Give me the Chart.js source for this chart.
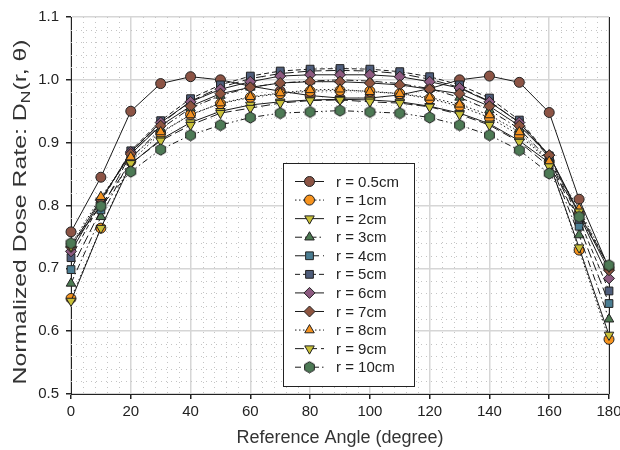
<!DOCTYPE html>
<html>
<head>
<meta charset="utf-8">
<script src="https://cdn.jsdelivr.net/npm/chart.js@4.4.1/dist/chart.umd.min.js"></script>
<style>
  html,body{margin:0;padding:0;background:#fff;}
  #wrap{width:620px;height:450px;}
</style>
</head>
<body>
<div id="wrap"><canvas id="c" width="620" height="450"></canvas></div>
<script>
// reference angles (degree)
const angles=[0,10,20,30,40,50,60,70,80,90,100,110,120,130,140,150,160,170,180];
const names=['r = 0.5cm','r = 1cm','r = 2cm','r = 3cm','r = 4cm','r = 5cm','r = 6cm','r = 7cm','r = 8cm','r = 9cm','r = 10cm'];
const xTicks=[0,20,40,60,80,100,120,140,160,180];
const yTicks=[0.5,0.6,0.7,0.8,0.9,1.0,1.1];

const r05=[0.758,0.845,0.950,0.994,1.005,1.000,0.990,0.982,0.975,0.971,0.971,0.976,0.986,1.000,1.006,0.996,0.948,0.810,0.700];
const r1 =[0.652,0.764,0.870,0.915,0.945,0.962,0.972,0.978,0.982,0.983,0.982,0.978,0.970,0.958,0.940,0.912,0.870,0.729,0.587];
const r2 =[0.648,0.764,0.866,0.905,0.932,0.950,0.960,0.965,0.968,0.969,0.968,0.965,0.958,0.947,0.930,0.903,0.868,0.733,0.594];
const r3 =[0.676,0.782,0.875,0.922,0.955,0.975,0.988,0.995,0.998,1.000,0.998,0.994,0.986,0.972,0.952,0.922,0.872,0.753,0.619];
const r4 =[0.698,0.793,0.882,0.930,0.966,0.988,1.002,1.010,1.014,1.015,1.014,1.010,1.001,0.988,0.966,0.932,0.876,0.767,0.644];
const r5 =[0.717,0.805,0.887,0.935,0.970,0.992,1.006,1.014,1.017,1.018,1.017,1.013,1.005,0.992,0.971,0.936,0.879,0.778,0.664];
const r6 =[0.727,0.808,0.885,0.932,0.965,0.985,0.997,1.006,1.008,1.008,1.008,1.005,0.997,0.987,0.965,0.932,0.880,0.785,0.684];
const r7 =[0.734,0.810,0.882,0.927,0.958,0.978,0.988,0.995,0.997,0.997,0.995,0.992,0.985,0.978,0.958,0.927,0.880,0.788,0.697];
const r8 =[0.738,0.814,0.877,0.917,0.944,0.963,0.973,0.979,0.984,0.985,0.981,0.978,0.972,0.961,0.944,0.917,0.870,0.795,0.702];
const r9 =[0.735,0.800,0.867,0.903,0.928,0.947,0.955,0.963,0.967,0.968,0.965,0.963,0.957,0.945,0.928,0.901,0.862,0.790,0.702];
const r10=[0.740,0.799,0.854,0.889,0.912,0.928,0.940,0.947,0.949,0.951,0.949,0.947,0.940,0.928,0.912,0.888,0.851,0.782,0.705];
const series=[r05,r1,r2,r3,r4,r5,r6,r7,r8,r9,r10];

// hexagon marker for r = 10cm
function hexMarker(fill){
  const cv=document.createElement('canvas'); cv.width=13; cv.height=13;
  const g=cv.getContext('2d'); g.beginPath();
  for(let k=0;k<6;k++){const a=Math.PI/2+k*Math.PI/3; const px=6.5+5.6*Math.cos(a), py=6.5+5.6*Math.sin(a); k?g.lineTo(px,py):g.moveTo(px,py);}
  g.closePath(); g.fillStyle=fill; g.fill(); g.strokeStyle='#222'; g.lineWidth=1; g.stroke();
  return cv;
}
const looks=[
  {fill:'#8c5445',style:'circle',rot:0,r:5,dash:[]},
  {fill:'#f7931e',style:'circle',rot:0,r:5,dash:[1.5,2.5]},
  {fill:'#c9c139',style:'triangle',rot:180,r:5.5,dash:[]},
  {fill:'#4d7a52',style:'triangle',rot:0,r:5.5,dash:[7,3,1.5,3]},
  {fill:'#4a7d92',style:'rect',rot:0,r:5.5,dash:[10,4]},
  {fill:'#4e5d7b',style:'rect',rot:0,r:5.5,dash:[5,3]},
  {fill:'#8c5a80',style:'rectRot',rot:0,r:5.5,dash:[]},
  {fill:'#8e5540',style:'rectRot',rot:0,r:5.5,dash:[]},
  {fill:'#f39220',style:'triangle',rot:0,r:5.5,dash:[1.5,2.5]},
  {fill:'#c9c139',style:'triangle',rot:180,r:5.5,dash:[9,4]},
  {fill:'#4d7a55',style:hexMarker('#4d7a55'),rot:0,r:5.5,dash:[6,3,1.5,3,1.5,3]}
];

const datasets=series.map((s,i)=>({
  label:names[i],
  data:s.map((v,j)=>({x:angles[j],y:v})),
  borderColor:'#1a1a1a',borderWidth:1,borderDash:looks[i].dash,
  pointStyle:looks[i].style,pointRotation:looks[i].rot,pointRadius:looks[i].r,
  pointBackgroundColor:looks[i].fill,pointBorderColor:'#222',pointBorderWidth:1,
  tension:0,fill:false,clip:false,order:series.length-i
}));

const decor={
  id:'decor',
  beforeDatasetsDraw(chart){
    const {ctx,chartArea:a,scales:{x,y}}=chart;
    ctx.save(); ctx.strokeStyle='#c4c4c4'; ctx.lineWidth=1; ctx.setLineDash([1,4]);
    for(let v=4;v<180;v+=4){ if(v%20===0) continue; const px=Math.round(x.getPixelForValue(v))+0.5;
      ctx.beginPath(); ctx.moveTo(px,a.top); ctx.lineTo(px,a.bottom); ctx.stroke(); }
    for(let k=26;k<55;k++){ if(k%5===0) continue; const py=Math.round(y.getPixelForValue(k/50))+0.5;
      ctx.beginPath(); ctx.moveTo(a.left,py); ctx.lineTo(a.right,py); ctx.stroke(); }
    ctx.setLineDash([]); ctx.strokeStyle='#222'; ctx.lineWidth=1;
    ctx.beginPath(); ctx.moveTo(a.right+0.5,a.top); ctx.lineTo(a.right+0.5,a.bottom); ctx.stroke();
    ctx.restore();
  },
  afterDraw(chart){
    const {ctx,chartArea:a}=chart;
    ctx.save();
    // legend
    const bx=283.5,by=163.5,bw=131,bh=223;
    ctx.fillStyle='#fff'; ctx.fillRect(bx,by,bw,bh);
    ctx.strokeStyle='#222'; ctx.lineWidth=1; ctx.strokeRect(bx,by,bw,bh);
    ctx.font='15px "Liberation Sans", Arial, sans-serif'; ctx.textBaseline='middle'; ctx.textAlign='left';
    chart.data.datasets.forEach((d,i)=>{
      const cy=181.5+i*18.57;
      ctx.strokeStyle='#1a1a1a'; ctx.lineWidth=1; ctx.setLineDash(looks[i].dash);
      ctx.beginPath(); ctx.moveTo(295,cy); ctx.lineTo(324,cy); ctx.stroke(); ctx.setLineDash([]);
      ctx.fillStyle=looks[i].fill; ctx.strokeStyle='#222';
      Chart.helpers.drawPoint(ctx,{pointStyle:looks[i].style,rotation:looks[i].rot,radius:looks[i].r,borderWidth:1},309.5,cy);
      ctx.fillStyle='#222'; ctx.fillText(d.label,336,cy+1);
    });
    // axis titles
    ctx.fillStyle='#333'; ctx.font='18px "Liberation Sans", Arial, sans-serif';
    ctx.textAlign='center'; ctx.textBaseline='middle';
    ctx.fillText('Reference Angle (degree)',(a.left+a.right)/2,438);
    ctx.translate(21,212); ctx.rotate(-Math.PI/2);
    const p1='Normalized Dose Rate: D', p2='N', p3='(r, θ)';
    const w1=ctx.measureText(p1).width, w3=ctx.measureText(p3).width;
    ctx.font='13px "Liberation Sans", Arial, sans-serif'; const w2=ctx.measureText(p2).width;
    const tot=w1+w2+w3; ctx.scale(345/tot,1);
    let sx=-tot/2; ctx.textAlign='left';
    ctx.font='18px "Liberation Sans", Arial, sans-serif'; ctx.fillText(p1,sx,0); sx+=w1;
    ctx.font='13px "Liberation Sans", Arial, sans-serif'; ctx.fillText(p2,sx,5); sx+=w2;
    ctx.font='18px "Liberation Sans", Arial, sans-serif'; ctx.fillText(p3,sx,0);
    ctx.restore();
  }
};

Chart.defaults.font.family='"Liberation Sans", Arial, sans-serif';
Chart.defaults.color='#222';
new Chart(document.getElementById('c'),{
  type:'line',
  data:{datasets},
  options:{
    responsive:false,animation:false,devicePixelRatio:1,
    layout:{padding:{top:17,right:11,left:0,bottom:0}},
    plugins:{legend:{display:false},tooltip:{enabled:false}},
    scales:{
      x:{type:'linear',min:0,max:180,
        afterBuildTicks:s=>{s.ticks=xTicks.map(v=>({value:v}));},
        afterFit:s=>{s.height=56;s.paddingLeft=0;s.paddingRight=0;},
        ticks:{font:{size:15},color:'#222',padding:4,maxRotation:0},
        grid:{color:'#d6d6d6',lineWidth:1.5,tickColor:'#222',tickLength:5},
        border:{color:'#222',width:1}},
      y:{type:'linear',min:0.5,max:1.1,
        afterBuildTicks:s=>{s.ticks=yTicks.map(v=>({value:v}));},
        afterFit:s=>{s.width=71;s.paddingTop=0;s.paddingBottom=0;},
        ticks:{font:{size:15},color:'#222',padding:7,callback:v=>v.toFixed(1)},
        grid:{color:'#d6d6d6',lineWidth:1.5,tickColor:'#222',tickLength:5},
        border:{color:'#222',width:1}}
    }
  },
  plugins:[decor]
});
</script>
</body>
</html>
